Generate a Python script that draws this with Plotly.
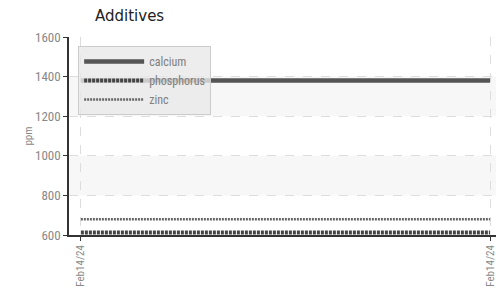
import plotly.graph_objects as go

dates = ["Feb14/24", "Feb14/24"]
x_idx = [0, 1]
calcium = [1380, 1380]
phosphorus = [612, 612]
zinc = [680, 680]
bands = [(800, 1000), (1200, 1400)]

fig = go.Figure()
fig.add_trace(go.Scatter(x=x_idx, y=calcium, name="calcium", mode="lines",
                         line=dict(color="#555555", width=4.5)))
fig.add_trace(go.Scatter(x=x_idx, y=phosphorus, name="phosphorus", mode="lines",
                         line=dict(color="#444444", width=4, dash="3px,1px")))
fig.add_trace(go.Scatter(x=x_idx, y=zinc, name="zinc", mode="lines",
                         line=dict(color="#666666", width=2.5, dash="2px,1px")))

for y0, y1 in bands:
    fig.add_shape(type="rect", xref="paper", yref="y", x0=0, x1=1, y0=y0, y1=y1,
                  fillcolor="#f7f7f7", line_width=0, layer="below")

font_c = "Liberation Sans Narrow, Roboto Condensed, Roboto, sans-serif"

fig.update_layout(
    width=496, height=288,
    margin=dict(l=61, r=0, t=29, b=61),
    plot_bgcolor="white", paper_bgcolor="white",
    title=dict(text="Additives", x=0, xref="paper", xanchor="left", y=1,
               yref="container", yanchor="top", pad=dict(t=2, l=26),
               font=dict(family="DejaVu Sans, sans-serif", size=15, color="#222222")),
    showlegend=True,
    legend=dict(x=0.021, y=0.955, xanchor="left", yanchor="top",
                bgcolor="rgba(232,232,232,0.8)", bordercolor="#cccccc", borderwidth=1,
                font=dict(family=font_c, size=12, color="#808080"),
                itemwidth=60, tracegroupgap=0),
    xaxis=dict(range=[-0.029, 1.034], tickmode="array", tickvals=x_idx, ticktext=dates,
               tickangle=-90, showgrid=True, gridcolor="#dddddd", griddash="dash",
               zeroline=False, showline=True, linecolor="#333333", linewidth=1.5,
               ticks="outside", ticklen=4, tickcolor="#333333", automargin=False,
               tickfont=dict(family=font_c, size=11, color="#888888")),
    yaxis=dict(range=[600, 1600], tickvals=[600, 800, 1000, 1200, 1400, 1600],
               showgrid=True, gridcolor="#dddddd", griddash="dash",
               zeroline=False, showline=True, linecolor="#333333", linewidth=1.5,
               ticks="outside", ticklen=4, tickcolor="#333333", automargin=False,
               tickfont=dict(family=font_c, size=13, color="#888888"),
               title=dict(text="ppm", standoff=0,
                          font=dict(family=font_c, size=11, color="#888888"))),
)

fig.write_html("out.html")
